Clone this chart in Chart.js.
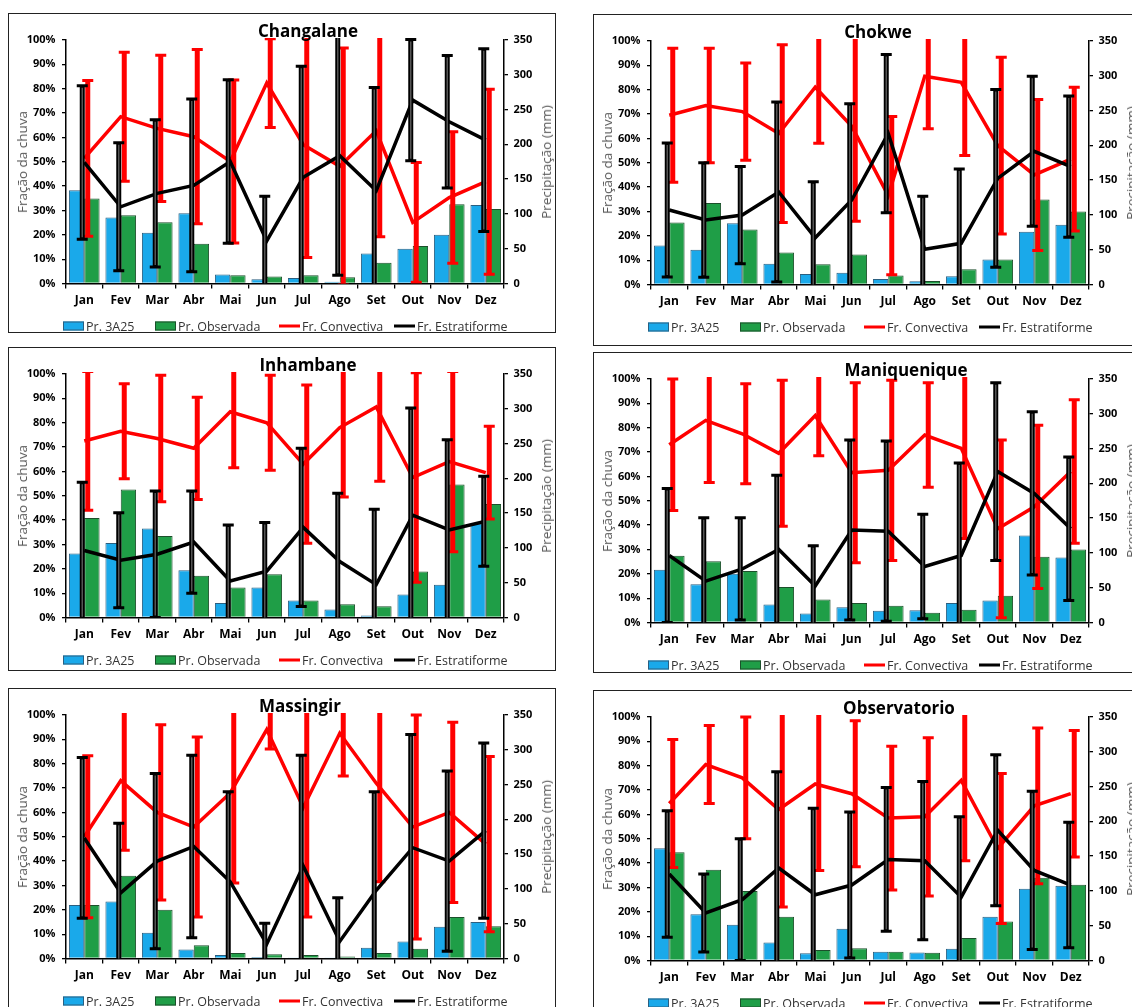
<!DOCTYPE html>
<html>
<head>
<meta charset="utf-8">
<script src="https://cdn.jsdelivr.net/npm/chart.js@4.4.0/dist/chart.umd.min.js"></script>
<style>
  html, body { margin: 0; padding: 0; width: 1132px; height: 1007px; overflow: hidden; background: #fff; font-family: 'Open Sans', sans-serif; }
  .panel { position: absolute; width: 548px; border: 1px solid #222; box-sizing: border-box; overflow: hidden; }
  .panel canvas { position: absolute; left: 0; top: 0; }
  .ttl { position: absolute; top: 15.5px; font-size: 17px; font-weight: bold; color: #000; white-space: nowrap; transform: translate(-50%, -50%); }
  .ax { position: absolute; top: 148px; font-size: 13.5px; color: #595959; white-space: nowrap; transform: translate(-50%, -50%) rotate(-90deg); }
  .li { position: absolute; top: 312px; display: flex; align-items: center; white-space: nowrap; transform: translateY(-50%); font-size: 12.5px; color: #333; }
  .sw { display: inline-block; width: 21px; height: 9px; margin-right: 2px; box-sizing: border-box; border: 1px solid; }
  .ln { display: inline-block; width: 21px; height: 3px; margin-right: 2px; }
</style>
</head>
<body>
<script>
// meses e estacoes
const months = ['Jan', 'Fev', 'Mar', 'Abr', 'Mai', 'Jun', 'Jul', 'Ago', 'Set', 'Out', 'Nov', 'Dez'];
const stations = ['Changalane', 'Chokwe', 'Inhambane', 'Maniquenique', 'Massingir', 'Observatorio'];
const fracTicks = [0, 10, 20, 30, 40, 50, 60, 70, 80, 90, 100];   // %
const precTicks = [0, 50, 100, 150, 200, 250, 300, 350];          // mm

// precipitacao (mm) e fracao (%) com desvio padrao
const changalane3A25 = [134, 95, 73, 101, 13, 6, 8, 2.5, 43, 50, 70, 113];
const changalaneObs = [122, 98, 88, 57, 12, 10, 12, 9, 30, 54, 114, 107];
const changalaneConv = [51.4, 68.5, 63.7, 60.3, 50.1, 82.3, 57.0, 48.1, 62.7, 25.1, 35.3, 41.8];
const changalaneConvErr = [32, 26.5, 30, 35.8, 33.5, 18.2, 46.3, 48.6, 43.5, 24.6, 27, 38];
const changalaneEstr = [49.7, 31.5, 37.0, 40.3, 50.1, 17.5, 43.6, 52.5, 38.1, 75.3, 66.4, 58.9];
const changalaneEstrErr = [31.5, 26.3, 30.2, 35.5, 33.6, 18.3, 45.6, 49.1, 42.4, 24.9, 27.2, 37.5];

const chokwe3A25 = [56, 50, 88, 30, 15, 17, 8, 4.5, 12, 36, 76, 86];
const chokweObs = [89, 117, 79, 46, 29, 43, 13, 5, 22, 36, 122, 105];
const chokweConv = [69.5, 73.5, 71, 62, 81, 65, 36.5, 85.5, 83, 57, 45, 51.5];
const chokweConvErr = [27.5, 23.5, 20, 36.5, 23, 39, 32.5, 21.5, 30, 36.3, 31, 29.5];
const chokweEstr = [30.6, 26.5, 28.5, 38, 19.2, 34.7, 62, 14.5, 16.9, 43.6, 54.7, 48.4];
const chokweEstrErr = [27.5, 23.5, 20, 37, 23, 39.5, 32.5, 21.7, 30.5, 36.5, 30.8, 29];

const inhambane3A25 = [92, 107, 128, 68, 21, 43, 24.5, 11.5, 3, 33, 47, 135];
const inhambaneObs = [143, 184, 117, 60, 43, 62, 24.5, 19, 16, 66, 191, 163];
const inhambaneConv = [72.5, 76.5, 73.5, 69.5, 84.5, 80, 63, 78, 86.5, 57.5, 64, 59.5];
const inhambaneConvErr = [28.5, 19.5, 26, 21, 23, 19.5, 32.5, 28.5, 30.5, 43, 37, 19];
const inhambaneEstr = [27.5, 23.5, 26, 31, 15, 19, 37, 23, 13.5, 42, 36, 39.5];
const inhambaneEstrErr = [28, 19.5, 26, 21, 23, 20, 32.5, 28, 31, 44, 37, 18.5];

const maniquenique3A25 = [76, 55, 70, 26, 13, 22, 17, 17.5, 28, 31.5, 125, 93.5];
const maniqueniqueObs = [96, 88, 74, 51, 33, 28, 24, 14, 18.5, 38.5, 94.5, 105];
const maniqueniqueConv = [73, 83, 77.5, 69.5, 85, 61.5, 62.5, 77, 71.5, 38.5, 47.5, 62];
const maniqueniqueConvErr = [27, 25.5, 20.5, 30, 16.5, 37, 37, 21.5, 37, 36.5, 33.5, 29.5];
const maniqueniqueEstr = [27.5, 17, 22, 30, 15, 38, 37.5, 23, 27.5, 62, 53, 38.5];
const maniqueniqueEstrErr = [27.5, 26, 21, 30.5, 16.5, 37, 37, 21.5, 38, 36.5, 33.5, 29.5];

const massingir3A25 = [77, 82, 37, 13, 5, 2, 0.7, 0.3, 15.5, 24.5, 45.5, 52.5];
const massingirObs = [77, 119, 70, 19, 8, 6, 5, 3, 8, 14, 59.5, 46.5];
const massingirConv = [50, 73, 60, 54, 68, 94, 62, 92.5, 72, 54, 60, 47];
const massingirConvErr = [33.3, 28.5, 36, 37, 37, 8, 45, 17.5, 40.5, 46, 37, 36];
const massingirEstr = [49.5, 27, 40, 46, 31.5, 6, 38, 7, 28, 45.5, 40, 52.5];
const massingirEstrErr = [33, 28.5, 36, 37.5, 37, 8.5, 45.5, 18, 40.5, 46.5, 37, 36];

const observatorio3A25 = [161.5, 66.5, 51.5, 26, 10.5, 45.5, 12.5, 11.5, 17, 63, 103, 107.5];
const observatorioObs = [155.5, 130.5, 100, 63, 15, 17.5, 12.5, 11, 32.5, 56, 119, 109];
const observatorioConv = [64.5, 80.5, 75, 62, 72.5, 68.5, 58.5, 59, 74, 46, 63.5, 68.5];
const observatorioConvErr = [26.3, 16, 25, 40, 35.5, 30, 29.5, 32.5, 33, 30.8, 32, 26];
const observatorioEstr = [35.5, 19.5, 25, 38, 27, 31, 41.5, 41, 26, 53.5, 37, 31];
const observatorioEstrErr = [26, 16, 25, 39.5, 35.5, 30, 29.5, 32.5, 33, 31, 32.5, 25.8];

const series = [
  [changalane3A25, changalaneObs, changalaneConv, changalaneConvErr, changalaneEstr, changalaneEstrErr],
  [chokwe3A25, chokweObs, chokweConv, chokweConvErr, chokweEstr, chokweEstrErr],
  [inhambane3A25, inhambaneObs, inhambaneConv, inhambaneConvErr, inhambaneEstr, inhambaneEstrErr],
  [maniquenique3A25, maniqueniqueObs, maniqueniqueConv, maniqueniqueConvErr, maniqueniqueEstr, maniqueniqueEstrErr],
  [massingir3A25, massingirObs, massingirConv, massingirConvErr, massingirEstr, massingirEstrErr],
  [observatorio3A25, observatorioObs, observatorioConv, observatorioConvErr, observatorioEstr, observatorioEstrErr]
];

// layout of the six boxes
const boxLeft = [8, 593, 8, 593, 8, 593];
const boxTop = [13, 14, 347, 352, 688, 690];
const boxHeight = [320, 332, 324, 321, 330, 330];
const titleX = [300, 285, 300, 313, 292, 306];

const BLUE = '#1AA9EA', GREEN = '#1F9E47', RED = '#FF0000', BLACK = '#000000';
const tickFont = { family: 'Open Sans', size: 11, weight: 'bold' };

// error bars drawn right after their line dataset
const errorBars = {
  id: 'errorBars',
  afterDatasetDraw(chart, args) {
    const ds = chart.data.datasets[args.index];
    if (!ds.errors) return;
    const { ctx, chartArea: a, scales: { x, y } } = chart;
    ctx.save();
    ctx.beginPath();
    ctx.rect(a.left, a.top - 2, a.right - a.left, a.bottom - a.top + 2);
    ctx.clip();
    ds.data.forEach((v, i) => {
      const px = x.getPixelForValue(i) + ds.errShift;
      const top = y.getPixelForValue(v + ds.errors[i]);
      const bot = y.getPixelForValue(v - ds.errors[i]);
      ctx.strokeStyle = ds.borderColor;
      ctx.lineWidth = 5;
      ctx.beginPath();
      ctx.moveTo(px, top); ctx.lineTo(px, bot);
      ctx.stroke();
      ctx.lineWidth = 3;
      ctx.beginPath();
      ctx.moveTo(px - 5.5, top); ctx.lineTo(px + 5.5, top);
      ctx.moveTo(px - 5.5, bot); ctx.lineTo(px + 5.5, bot);
      ctx.stroke();
      if (ds.errInner) {
        ctx.strokeStyle = ds.errInner;
        ctx.lineWidth = 1.5;
        ctx.beginPath();
        ctx.moveTo(px, top + 2); ctx.lineTo(px, bot - 2);
        ctx.stroke();
      }
    });
    ctx.restore();
  }
};

function addText(parent, cls, text, left) {
  const el = document.createElement('div');
  el.className = cls;
  el.textContent = text;
  el.style.left = left + 'px';
  parent.appendChild(el);
  return el;
}

function addLegendItem(parent, left, swatch, label) {
  const item = document.createElement('div');
  item.className = 'li';
  item.style.left = left + 'px';
  item.appendChild(swatch);
  item.appendChild(document.createTextNode(label));
  parent.appendChild(item);
}

function swatchBox(fill, edge) {
  const s = document.createElement('span');
  s.className = 'sw';
  s.style.background = fill;
  s.style.borderColor = edge;
  return s;
}

function swatchLine(color) {
  const s = document.createElement('span');
  s.className = 'ln';
  s.style.background = color;
  return s;
}

stations.forEach((name, k) => {
  const [pr3a25, prObs, conv, convErr, estr, estrErr] = series[k];
  const W = 546, H = boxHeight[k] - 2;

  const box = document.createElement('div');
  box.className = 'panel';
  box.style.left = boxLeft[k] + 'px';
  box.style.top = boxTop[k] + 'px';
  box.style.height = boxHeight[k] + 'px';
  document.body.appendChild(box);

  const canvas = document.createElement('canvas');
  canvas.width = W;
  canvas.height = H;
  box.appendChild(canvas);

  addText(box, 'ttl', name, titleX[k] - 1);
  addText(box, 'ax', 'Fração da chuva', 12.7);
  addText(box, 'ax', 'Precipitação (mm)', 537);
  addLegendItem(box, 54, swatchBox(BLUE, '#2b5f80'), 'Pr. 3A25');
  addLegendItem(box, 146, swatchBox(GREEN, '#1c4f2b'), 'Pr. Observada');
  addLegendItem(box, 270, swatchLine(RED), 'Fr. Convectiva');
  addLegendItem(box, 385, swatchLine(BLACK), 'Fr. Estratiforme');

  new Chart(canvas.getContext('2d'), {
    type: 'bar',
    data: {
      labels: months,
      datasets: [
        { label: 'Pr. 3A25', data: pr3a25, yAxisID: 'y2', order: 3,
          backgroundColor: BLUE, borderColor: '#2b5f80', borderWidth: 1,
          categoryPercentage: 0.84, barPercentage: 1 },
        { label: 'Pr. Observada', data: prObs, yAxisID: 'y2', order: 4,
          backgroundColor: GREEN, borderColor: '#1c4f2b', borderWidth: 1,
          categoryPercentage: 0.84, barPercentage: 1 },
        { type: 'line', label: 'Fr. Convectiva', data: conv, yAxisID: 'y', order: 2,
          borderColor: RED, borderWidth: 3.5, pointRadius: 0, tension: 0,
          errors: convErr, errShift: 3.5 },
        { type: 'line', label: 'Fr. Estratiforme', data: estr, yAxisID: 'y', order: 1,
          borderColor: BLACK, borderWidth: 3.5, pointRadius: 0, tension: 0,
          errors: estrErr, errShift: -2, errInner: '#555555' }
      ]
    },
    options: {
      responsive: false,
      animation: false,
      layout: { padding: { top: 26, left: 0, right: 0, bottom: 0 } },
      plugins: { legend: { display: false }, tooltip: { enabled: false } },
      scales: {
        x: {
          offset: true,
          grid: { offset: true, drawOnChartArea: false, tickLength: 5, color: '#000', lineWidth: 1.3 },
          border: { color: '#000', width: 1.5 },
          ticks: { font: { family: 'Open Sans', size: 12, weight: 'bold' }, color: '#000', padding: 4.5, maxRotation: 0, autoSkip: false },
          afterFit: s => { s.height = H - 269.5; }
        },
        y: {
          position: 'left', min: 0, max: 100,
          afterBuildTicks: s => { s.ticks = fracTicks.map(v => ({ value: v })); },
          ticks: { font: tickFont, color: '#000', padding: 6.5, callback: v => v + '%' },
          grid: { drawOnChartArea: false, tickLength: 4, color: '#000', lineWidth: 1.3 },
          border: { color: '#000', width: 1.5 },
          afterFit: s => { s.width = 57; }
        },
        y2: {
          position: 'right', min: 0, max: 350,
          afterBuildTicks: s => { s.ticks = precTicks.map(v => ({ value: v })); },
          ticks: { font: tickFont, color: '#000', padding: 5.5 },
          grid: { drawOnChartArea: false, tickLength: 4, color: '#000', lineWidth: 1.3 },
          border: { color: '#000', width: 1.5 },
          afterFit: s => { s.width = W - 495; }
        }
      }
    },
    plugins: [errorBars]
  });
});
</script>
</body>
</html>
